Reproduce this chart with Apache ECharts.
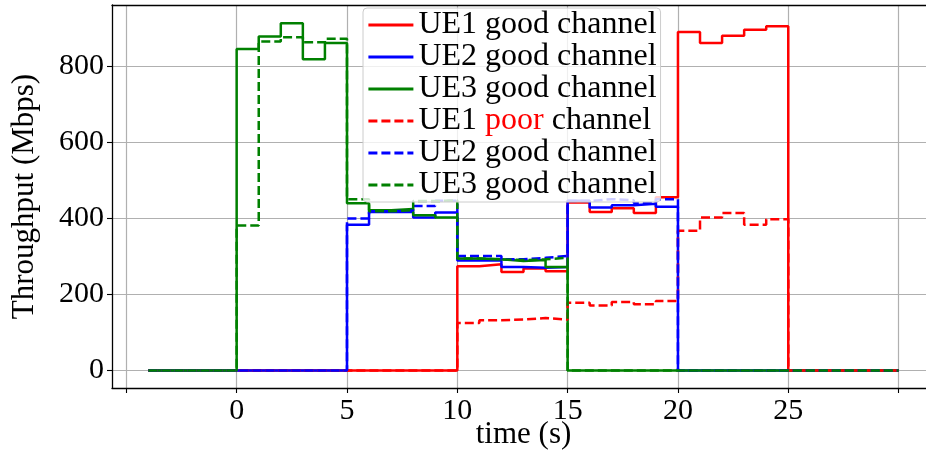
<!DOCTYPE html>
<html>
<head>
<meta charset="utf-8">
<script src="https://cdn.jsdelivr.net/npm/echarts@6/dist/echarts.min.js"></script>
<style>
  html, body { margin: 0; padding: 0; background: #fff; }
  #chart { width: 926px; height: 455px; }
</style>
</head>
<body>
<div id="chart"></div>
<script>
// Time instants (s); each value holds until the next instant (step plot)
const times = [-4, -3, -2, -1, 0, 1, 2, 3, 4, 5, 6, 7, 8, 9, 10, 11, 12, 13, 14,
  15, 16, 17, 18, 19, 20, 21, 22, 23, 24, 25, 26, 27, 28, 29, 30];

// Throughput (Mbps), scenario with all channels good
const ue1Good = [0, 0, 0, 0, 0, 0, 0, 0, 0, 0, 0, 0, 0, 0,
  274, 279, 259, 268, 261, 441, 416, 426, 414, 455, 889, 860, 879, 895, 904,
  0, 0, 0, 0, 0, 0];
const ue2Good = [0, 0, 0, 0, 0, 0, 0, 0, 0,
  383, 416, 416, 402, 415, 289, 289, 272, 270, 272, 446, 428, 434, 438, 430,
  0, 0, 0, 0, 0, 0, 0, 0, 0, 0, 0];
const ue3Good = [0, 0, 0, 0,
  844, 877, 912, 817, 860, 439, 421, 424, 408, 402, 294, 292, 288, 290, 272,
  0, 0, 0, 0, 0, 0, 0, 0, 0, 0, 0, 0, 0, 0, 0, 0];

// Throughput (Mbps), scenario where UE1 has a poor channel
const ue1Poor = [0, 0, 0, 0, 0, 0, 0, 0, 0, 0, 0, 0, 0, 0,
  125, 132, 134, 138, 134, 178, 171, 180, 174, 183, 367, 402, 414, 383, 397,
  0, 0, 0, 0, 0, 0];
const ue2WithPoor = [0, 0, 0, 0, 0, 0, 0, 0, 0,
  399, 418, 420, 432, 446, 301, 301, 292, 296, 301, 445, 450, 447, 440, 450,
  0, 0, 0, 0, 0, 0, 0, 0, 0, 0, 0];
const ue3WithPoor = [0, 0, 0, 0,
  381, 864, 875, 862, 871, 450, 418, 421, 445, 447, 294, 292, 290, 292, 296,
  0, 0, 0, 0, 0, 0, 0, 0, 0, 0, 0, 0, 0, 0, 0, 0];

// Axis ticks
const xTicks = [-5, 0, 5, 10, 15, 20, 25, 30];
const xTickLabels = [0, 5, 10, 15, 20, 25];
const yTicks = [0, 200, 400, 600, 800];

const FONT = '"Liberation Serif", "Times New Roman", serif';
const RED = '#ff0000', BLUE = '#0000ff', GREEN = '#008000';

const lines = [
  { id: 'ue1Good', label: 'UE1 good channel', data: ue1Good, color: RED, dashed: false },
  { id: 'ue2Good', label: 'UE2 good channel', data: ue2Good, color: BLUE, dashed: false },
  { id: 'ue3Good', label: 'UE3 good channel', data: ue3Good, color: GREEN, dashed: false },
  { id: 'ue1Poor', label: 'UE1 {p|poor} channel', data: ue1Poor, color: RED, dashed: true },
  { id: 'ue2WithPoor', label: 'UE2 good channel', data: ue2WithPoor, color: BLUE, dashed: true },
  { id: 'ue3WithPoor', label: 'UE3 good channel', data: ue3WithPoor, color: GREEN, dashed: true }
];
const labelOf = {};
lines.forEach(l => { labelOf[l.id] = l.label; });

const chart = echarts.init(document.getElementById('chart'), null, { renderer: 'canvas' });

const gridLine = { show: true, lineStyle: { color: '#b0b0b0', width: 1.2, type: 'solid' } };

chart.setOption({
  animation: false,
  backgroundColor: '#ffffff',
  grid: { left: 112, right: -9, top: 5, bottom: 67, containLabel: false, outerBoundsMode: 'none' },
  xAxis: [{
    type: 'value',
    min: -5.65,
    max: 31.65,
    name: 'time (s)',
    nameLocation: 'middle',
    nameGap: 31,
    nameMoveOverlap: false,
    nameTextStyle: { fontFamily: FONT, fontSize: 31, color: '#000' },
    axisLine: { show: true, onZero: false, lineStyle: { color: '#000', width: 1.3 } },
    axisTick: { show: true, length: 5, lineStyle: { color: '#000', width: 1.1 }, customValues: xTicks },
    axisLabel: { fontFamily: FONT, fontSize: 30, color: '#000', margin: 8, customValues: xTickLabels },
    splitLine: gridLine
  }, {
    // top spine
    type: 'value',
    position: 'top',
    min: -5.65,
    max: 31.65,
    axisLine: { show: true, onZero: false, lineStyle: { color: '#000', width: 1.3 } },
    axisTick: { show: false },
    axisLabel: { show: false },
    splitLine: { show: false }
  }],
  yAxis: {
    type: 'value',
    min: -45.7,
    max: 959.7,
    name: 'Throughput (Mbps)',
    nameLocation: 'middle',
    nameGap: 72,
    nameMoveOverlap: false,
    nameTextStyle: { fontFamily: FONT, fontSize: 31, color: '#000' },
    axisLine: { show: true, onZero: false, lineStyle: { color: '#000', width: 1.3 } },
    axisTick: { show: true, length: 5, lineStyle: { color: '#000', width: 1.1 }, customValues: yTicks },
    axisLabel: { fontFamily: FONT, fontSize: 30, color: '#000', margin: 8, customValues: yTicks },
    splitLine: gridLine
  },
  legend: {
    orient: 'vertical',
    left: 363,
    top: 8,
    itemWidth: 45,
    itemHeight: 20,
    itemGap: 0,
    padding: [1, 4, 1, 4],
    backgroundColor: 'rgba(255,255,255,0.8)',
    borderColor: '#cccccc',
    borderWidth: 1,
    borderRadius: 4,
    itemStyle: { color: 'rgba(0,0,0,0)', borderColor: 'rgba(0,0,0,0)', borderWidth: 0, opacity: 0 },
    lineStyle: { width: 2.8 },
    data: lines.map(l => l.id),
    formatter: name => labelOf[name],
    textStyle: {
      fontFamily: FONT,
      fontSize: 32,
      lineHeight: 29,
      color: '#000',
      rich: { p: { color: RED, fontFamily: FONT, fontSize: 32, lineHeight: 29 } }
    }
  },
  series: lines.map(l => ({
    id: l.id,
    name: l.id,
    type: 'line',
    step: 'end',
    symbol: 'none',
    showSymbol: false,
    data: times.map((t, i) => [t, l.data[i]]),
    lineStyle: { color: l.color, width: 2.5, type: l.dashed ? [9, 4] : 'solid' },
    itemStyle: { color: l.color }
  }))
});
</script>
</body>
</html>
